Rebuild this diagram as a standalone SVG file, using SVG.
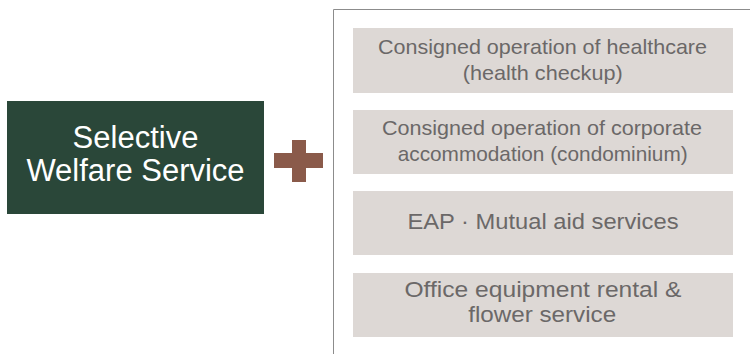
<svg xmlns="http://www.w3.org/2000/svg" width="750" height="354" viewBox="0 0 750 354">
<style>
.item{fill:#ddd8d5}
.it{font-family:"Liberation Sans",Arial,sans-serif;font-size:21px;fill:#6b6868;text-anchor:middle}
.it2{font-family:"Liberation Sans",Arial,sans-serif;font-size:22.5px;fill:#6b6868;text-anchor:middle}
.mt{font-family:"Liberation Sans",Arial,sans-serif;font-size:31px;fill:#ffffff;text-anchor:middle}
</style>
<rect width="750" height="354" fill="#ffffff"/>
<g id="main">
<rect x="7" y="101" width="257" height="113" fill="#2a4739"/>
<text class="mt" x="135.5" y="148">Selective</text>
<text class="mt" x="135.5" y="181">Welfare Service</text>
</g>
<g id="plus">
<rect x="292" y="140" width="14" height="42" fill="#8a5a4a"/>
<rect x="274" y="153" width="49" height="15" fill="#8a5a4a"/>
</g>
<g id="connectors">
<path d="M333.5 354 V9.5 H750" fill="none" stroke="#8c8c8c" stroke-width="1"/>
</g>
<g id="item1">
<rect class="item" x="353" y="28" width="380" height="65"/>
<text class="it" x="542.5" y="54" textLength="329" lengthAdjust="spacingAndGlyphs">Consigned operation of healthcare</text>
<text class="it" x="542.7" y="80" textLength="160" lengthAdjust="spacingAndGlyphs">(health checkup)</text>
</g>
<g id="item2">
<rect class="item" x="353" y="110" width="380" height="64"/>
<text class="it" x="542" y="135" textLength="320" lengthAdjust="spacingAndGlyphs">Consigned operation of corporate</text>
<text class="it" x="542.7" y="161" textLength="290" lengthAdjust="spacingAndGlyphs">accommodation (condominium)</text>
</g>
<g id="item3">
<rect class="item" x="353" y="191" width="380" height="64"/>
<text class="it2" x="543" y="229" textLength="271" lengthAdjust="spacingAndGlyphs">EAP · Mutual aid services</text>
</g>
<g id="item4">
<rect class="item" x="353" y="273" width="380" height="64"/>
<text class="it2" x="543" y="297" textLength="277" lengthAdjust="spacingAndGlyphs">Office equipment rental &amp;</text>
<text class="it2" x="542.2" y="322" textLength="148" lengthAdjust="spacingAndGlyphs">flower service</text>
</g>
</svg>
